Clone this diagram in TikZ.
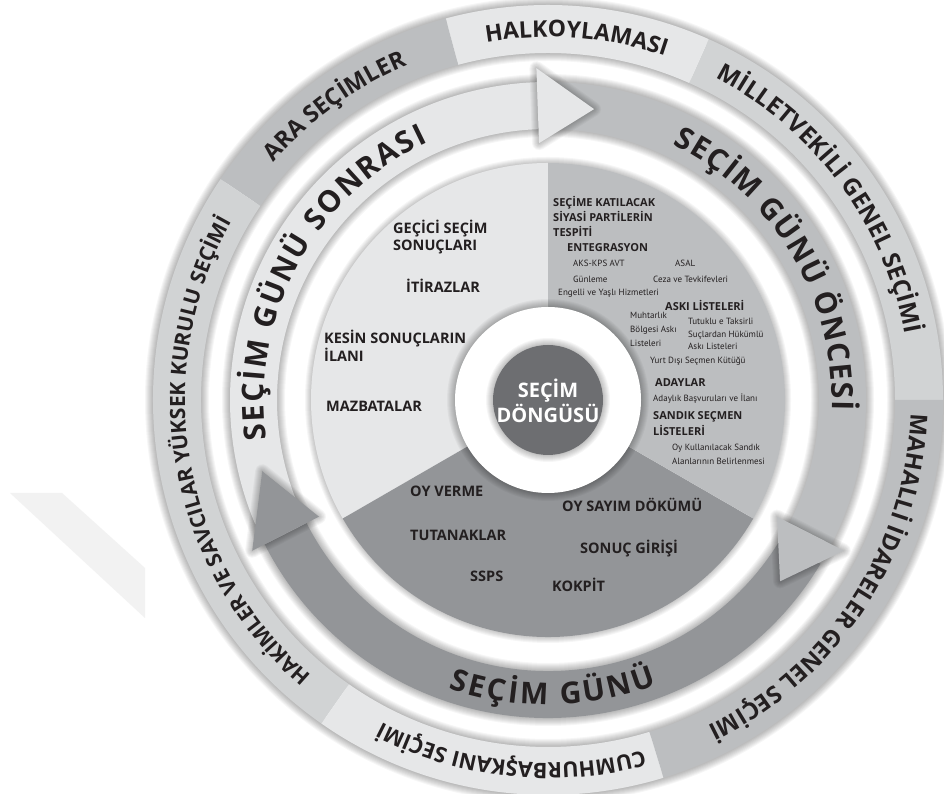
\documentclass[tikz,border=0pt]{standalone}
\usepackage{fontspec}
\setmainfont{PT Sans}
\newfontfamily\headfont{Open Sans}
\usetikzlibrary{positioning,decorations.text}

\definecolor{inkgray}{HTML}{231F20}
\definecolor{palegray}{HTML}{E6E7E8}
\definecolor{midgray}{HTML}{D1D3D4}
\definecolor{softgray}{HTML}{BCBEC0}
\definecolor{deepgray}{HTML}{939598}
\definecolor{coregray}{HTML}{6D6E71}

% radii of the rings
\def\ringin{347}
\def\ringout{395}
\def\bandin{271}
\def\bandout{318}
\def\headin{257}
\def\headout{332}
\def\bandmid{294.5}
\def\pierad{237}

% annular piece: colour, from angle, to angle, inner radius, outer radius
\newcommand\ringpart[5]{%
  \fill[#1] (#2:#5) arc[start angle=#2,end angle=#3,radius=#5]
    -- (#3:#4) arc[start angle=#3,end angle=#2,radius=#4] -- cycle;}

% arrow tip on the band: colour, base angle, tip angle
\newcommand\bandhead[3]{%
  \foreach \w in {2,4,...,14}
    \draw[glow=\w pt,line join=round] (#2:\headout) -- (#3:\bandmid) -- (#2:\headin) -- cycle;
  \fill[#1] (#2:\headout) -- (#3:\bandmid) -- (#2:\headin) -- cycle;}

\begin{document}
\begin{tikzpicture}[x=1pt,y=1pt,
  glow/.style={draw=black,opacity=0.035,line width=#1},
  outertext/.style 2 args={decorate,decoration={text along path,text align=center,
    text color=inkgray,text={|\headfont\bfseries\fontsize{#1}{#1}\selectfont|#2}}},
  bandtext/.style={decorate,decoration={text along path,text align={fit to path},
    text color=inkgray,text={|\headfont\bfseries\fontsize{30}{30}\selectfont|#1}}},
  stage/.style={inner sep=0pt,anchor=north west,align=left,text=inkgray,
    font=\headfont\bfseries\fontsize{14.5}{16.5}\selectfont},
  task/.style={stage,font=\headfont\bfseries\fontsize{11}{15}\selectfont},
  item/.style={stage,font=\fontsize{9}{12.5}\selectfont}]

\useasboundingbox (0,0) rectangle (944,794);
\fill[white] (0,0) rectangle (944,794);
% faint mark in the left margin
\fill[black!5] (10,301) -- (62,301) -- (145,226) -- (145,176) -- cycle;

\begin{scope}[shift={(548,394)}]
  % outer ring: kinds of elections
  \foreach \w in {2,4,...,16}
    \draw[glow=\w pt] (0,0) circle[radius=\ringout] (0,0) circle[radius=\ringin];
  \ringpart{midgray}{0}{66}{\ringin}{\ringout}
  \ringpart{palegray}{66}{105}{\ringin}{\ringout}
  \ringpart{softgray}{105}{146}{\ringin}{\ringout}
  \ringpart{midgray}{146}{235}{\ringin}{\ringout}
  \ringpart{palegray}{235}{287}{\ringin}{\ringout}
  \ringpart{softgray}{287}{360}{\ringin}{\ringout}

  % band of three arrows
  \foreach \w in {2,4,...,16}
    \draw[glow=\w pt] (0,0) circle[radius=\bandout] (0,0) circle[radius=\bandin];
  \ringpart{palegray}{203}{92}{\bandin}{\bandout}
  \ringpart{softgray}{88}{-27}{\bandin}{\bandout}
  \ringpart{deepgray}{-31}{-153}{\bandin}{\bandout}
  \bandhead{palegray}{92}{81}
  \bandhead{softgray}{-27}{-38}
  \bandhead{deepgray}{-153}{-166}

  % pie with the three stages
  \foreach \w in {2,4,...,12}
    \draw[glow=\w pt] (0,0) circle[radius=\pierad];
  \fill[palegray] (0,0) -- (90:\pierad) arc[start angle=90,end angle=210,radius=\pierad] -- cycle;
  \fill[deepgray] (0,0) -- (210:\pierad) arc[start angle=210,end angle=330,radius=\pierad] -- cycle;
  \fill[softgray] (0,0) -- (-30:\pierad) arc[start angle=-30,end angle=90,radius=\pierad] -- cycle;

  % hub
  \foreach \w in {2,4,...,16}
    \draw[glow=\w pt] (0,0) circle[radius=93];
  \fill[white] (0,0) circle[radius=93];
  \foreach \w in {2,4,...,14}
    \draw[glow=\w pt] (0,0) circle[radius=55];
  \fill[coregray] (0,0) circle[radius=55];
  \node[text=white,align=center,font=\headfont\bfseries\fontsize{20}{25}\selectfont] (hub) at (0,-1) {SEÇİM\\DÖNGÜSÜ};

  % texts on the outer ring
  \path[outertext={23}{HALKOYLAMASI}] (105:363) arc[start angle=105,end angle=66,radius=363];
  \path[outertext={23.5}{ARA SEÇİMLER}] (144:363) arc[start angle=144,end angle=108,radius=363];
  \path[outertext={24}{MİLLETVEKİLİ GENEL SEÇİMİ}] (70:363) arc[start angle=70,end angle=3,radius=363];
  \path[outertext={23.5}{MAHALLİ İDARELER GENEL SEÇİMİ}] (4:363) arc[start angle=4,end angle=-70,radius=363];
  \path[outertext={21.5}{CUMHURBAŞKANI SEÇİMİ}] (-72:363) arc[start angle=-72,end angle=-120,radius=363];
  \path[outertext={21}{HAKİMLER VE SAVCILAR YÜKSEK KURULU SEÇİMİ}] (240:363) arc[start angle=240,end angle=140,radius=363];

  % texts on the arrows
  \path[bandtext={SEÇİM GÜNÜ SONRASI}] (188:284) arc[start angle=188,end angle=115,radius=284];
  \path[bandtext={SEÇİM GÜNÜ ÖNCESİ}] (64:284) arc[start angle=64,end angle=-2,radius=284];
  \path[bandtext={SEÇİM GÜNÜ}] (-109:305) arc[start angle=-109,end angle=-69,radius=305];
\end{scope}

% after election day
\node[stage] (gecici) at (393,574) {GEÇİCİ SEÇİM\\SONUÇLARI};
\node[stage] (itiraz) at (406,515) {İTİRAZLAR};
\node[stage] (kesin) at (324,464) {KESİN SONUÇLARIN\\İLANI};
\node[stage] (mazbata) at (326,393) {MAZBATALAR};

% election day
\node[stage] (oyverme) at (410,308) {OY VERME};
\node[stage] (tutanak) at (410,264) {TUTANAKLAR};
\node[stage] (ssps) at (470,223) {SSPS};
\node[stage] (kokpit) at (552,216) {KOKPİT};
\node[stage] (sayim) at (562,296) {OY SAYIM DÖKÜMÜ};
\node[stage] (sonuc) at (580,254) {SONUÇ GİRİŞİ};

% before election day
\node[task] (tespit) at (553,598) {SEÇİME KATILACAK\\SİYASİ PARTİLERİN\\TESPİTİ};
\node[task] (entegre) at (567,551) {ENTEGRASYON};
\node[item,font=\fontsize{9}{16}\selectfont] (aks) at (573,534) {AKS-KPS AVT\\Günleme};
\node[item] (asal) at (675,534) {ASAL};
\node[item] (ceza) at (653,518) {Ceza ve Tevkifevleri};
\node[item] (engelli) at (558,505) {Engelli ve Yaşlı Hizmetleri};
\node[task] (aski) at (665,494) {ASKI LİSTELERİ};
\node[item,font=\fontsize{9}{14}\selectfont] (muhtar) at (630,482) {Muhtarlık\\Bölgesi Askı\\Listeleri};
\node[item] (tutuklu) at (688,476) {Tutuklu e Taksirli\\Suçlardan Hükümlü\\Askı Listeleri};
\node[item] (yurtdisi) at (650,437) {Yurt Dışı Seçmen Kütüğü};
\node[task] (adaylar) at (655,416) {ADAYLAR};
\node[item] (basvuru) at (653,400) {Adaylık Başvuruları ve İlanı};
\node[task,font=\headfont\bfseries\fontsize{11}{16}\selectfont] (sandik) at (653,383) {SANDIK SEÇMEN\\LİSTELERİ};
\node[item,font=\fontsize{9}{14}\selectfont] (alan) at (672,350) {Oy Kullanılacak Sandık\\Alanlarının Belirlenmesi};
\end{tikzpicture}
\end{document}
